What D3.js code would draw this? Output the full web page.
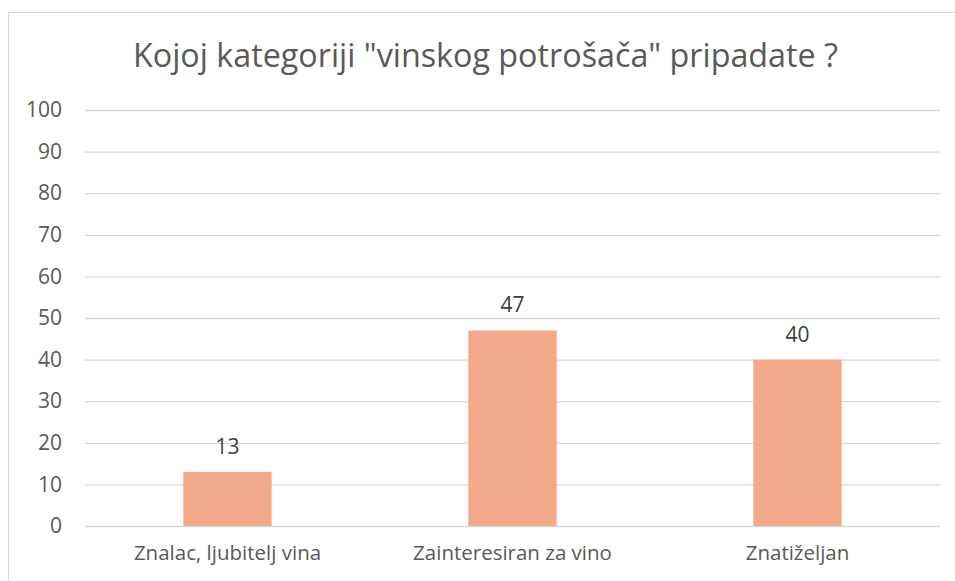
<!DOCTYPE html>
<html>
<head>
<meta charset="utf-8">
<script src="https://cdn.jsdelivr.net/npm/d3@7"></script>
<style>
  html, body { margin: 0; padding: 0; background: #fff; }
  #chart { width: 955px; height: 581px; }
  text { font-family: "Open Sans", "Noto Sans", sans-serif; }
</style>
</head>
<body>
<div id="chart"></div>
<script>
const categories = ["Znalac, ljubitelj vina", "Zainteresiran za vino", "Znatiželjan"];
const values = [13, 47, 40];
const yTicks = [0, 10, 20, 30, 40, 50, 60, 70, 80, 90, 100];
const chartTitle = 'Kojoj kategoriji "vinskog potrošača" pripadate ?';

document.addEventListener("DOMContentLoaded", () => {
  const width = 955;
  const height = 581;
  const plotLeft = 85;
  const plotRight = 940;
  const plotTop = 110;
  const plotBottom = 526;
  const barColor = "#f2a98a";
  const gridColor = "#d9d9d9";

  const svg = d3
    .select("#chart")
    .append("svg")
    .attr("width", width)
    .attr("height", height);

  // chart frame (runs off the right and bottom edge)
  svg
    .append("rect")
    .attr("x", 8.5)
    .attr("y", 12.5)
    .attr("width", 980)
    .attr("height", 600)
    .attr("fill", "#fff")
    .attr("stroke", gridColor)
    .attr("stroke-width", 1);

  // Scales
  const xScale = d3
    .scaleBand()
    .domain(categories)
    .range([plotLeft, plotRight])
    .paddingInner(0.69)
    .paddingOuter(0.345);
  const yScale = d3
    .scaleLinear()
    .domain([0, 100])
    .range([plotBottom, plotTop]);

  // Y axis with gridlines
  const yAxis = d3
    .axisLeft(yScale)
    .tickValues(yTicks)
    .tickSize(-(plotRight - plotLeft))
    .tickPadding(23);
  const yg = svg
    .append("g")
    .attr("transform", `translate(${plotLeft}, 0)`)
    .call(yAxis);
  yg.select(".domain").remove();
  yg.selectAll(".tick line").attr("stroke", gridColor).attr("stroke-width", 1.3);
  yg.selectAll(".tick text")
    .attr("fill", "#595959")
    .attr("font-size", 21)
    .attr("font-family", '"Open Sans", sans-serif');

  // X axis labels
  const xAxis = d3.axisBottom(xScale).tickSize(0).tickPadding(19);
  const xg = svg
    .append("g")
    .attr("transform", `translate(0, ${plotBottom})`)
    .call(xAxis);
  xg.select(".domain").remove();
  xg.selectAll(".tick text")
    .attr("fill", "#595959")
    .attr("font-size", 20.5)
    .attr("font-family", '"Open Sans", sans-serif');

  // Bars
  svg
    .selectAll("rect.bar")
    .data(values)
    .enter()
    .append("rect")
    .attr("class", "bar")
    .attr("x", (d, i) => xScale(categories[i]))
    .attr("y", (d) => yScale(d))
    .attr("width", xScale.bandwidth())
    .attr("height", (d) => yScale(0) - yScale(d))
    .attr("fill", barColor);

  // Data labels
  svg
    .selectAll("text.label")
    .data(values)
    .enter()
    .append("text")
    .attr("class", "label")
    .attr("x", (d, i) => xScale(categories[i]) + xScale.bandwidth() / 2)
    .attr("y", (d) => yScale(d) - 18)
    .attr("text-anchor", "middle")
    .attr("fill", "#404040")
    .attr("font-size", 21)
    .text((d) => d);

  // Title
  svg
    .append("text")
    .attr("x", 133)
    .attr("y", 67)
    .attr("textLength", 705)
    .attr("lengthAdjust", "spacingAndGlyphs")
    .attr("fill", "#595959")
    .attr("font-size", 32)
    .text(chartTitle);
});
</script>
</body>
</html>
